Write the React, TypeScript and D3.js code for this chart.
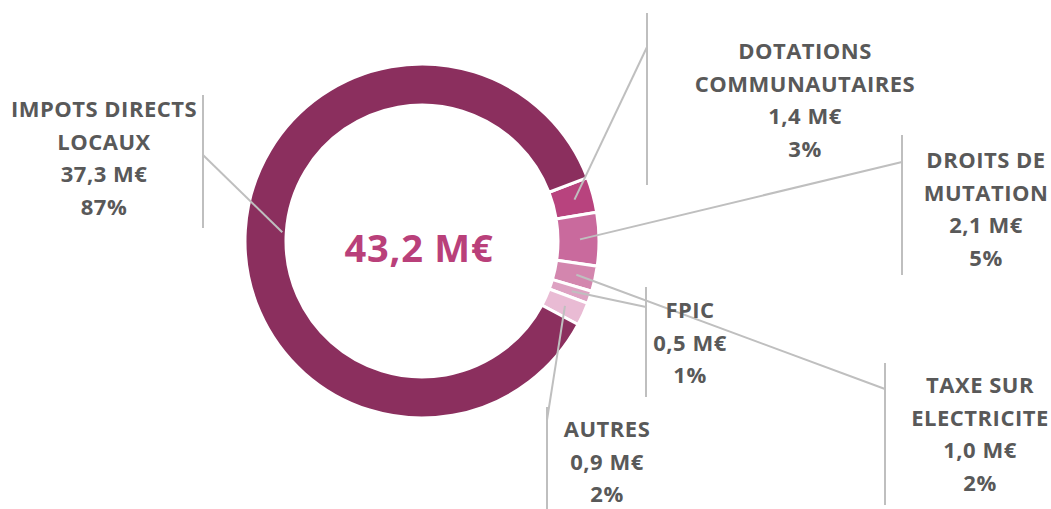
import * as d3 from "d3";
import React from "react";

const categories = [
  "DOTATIONS COMMUNAUTAIRES",
  "DROITS DE MUTATION",
  "TAXE SUR ELECTRICITE",
  "FPIC",
  "AUTRES",
  "IMPOTS DIRECTS LOCAUX",
];
const values = [1.4, 2.1, 1.0, 0.5, 0.9, 37.3];
const pctLabels = ["3%", "5%", "2%", "1%", "2%", "87%"];
const nameLines = [
  ["DOTATIONS", "COMMUNAUTAIRES"],
  ["DROITS DE", "MUTATION"],
  ["TAXE SUR", "ELECTRICITE"],
  ["FPIC"],
  ["AUTRES"],
  ["IMPOTS DIRECTS", "LOCAUX"],
];
const totalLabel = "43,2 M€";

const colors = ["#b8437e", "#c96a9d", "#d386ae", "#dda2c2", "#e9bbd4", "#8b2f5e"];

const width = 1051;
const height = 509;
const cx = 422;
const cy = 241;
const outerR = 177;
const innerR = 136;
const lineStep = 32.5;

// label boxes: text center, first baseline, leader bar x / y range, join y
const layout = [
  { tx: 805, ty: 59, bx: 647, by1: 13, by2: 185, jy: 47 },
  { tx: 986, ty: 168, bx: 902, by1: 135, by2: 275, jy: 162 },
  { tx: 980, ty: 393, bx: 885, by1: 363, by2: 505, jy: 389 },
  { tx: 690, ty: 318, bx: 646, by1: 287, by2: 397, jy: 307 },
  { tx: 607, ty: 437, bx: 547, by1: 407, by2: 512, jy: 420 },
  { tx: 104, ty: 117, bx: 203, by1: 95, by2: 228, jy: 155 },
];
const anchorR = [158, 158, 158, 158, 157, 140];

const fmt = (v: number) => v.toFixed(1).replace(".", ",") + " M€";

export default function App() {
  const start = (69 * Math.PI) / 180;
  const pie = d3
    .pie<number>()
    .sort(null)
    .value((d) => d)
    .startAngle(start)
    .endAngle(start + 2 * Math.PI);
  const arcs = pie(values);
  const arcGen = d3.arc<d3.PieArcDatum<number>>().innerRadius(innerR).outerRadius(outerR);

  return (
    <svg width={width} height={height} style={{ position: "absolute", left: 0, top: 0 }}>
      <g transform={`translate(${cx},${cy})`}>
        {arcs.map((a, i) => (
          <path key={i} d={arcGen(a) || ""} fill={colors[i]} stroke="#fff" strokeWidth={3} />
        ))}
      </g>
      {arcs.map((a, i) => {
        const L = layout[i];
        const mid = (a.startAngle + a.endAngle) / 2;
        const px = cx + anchorR[i] * Math.sin(mid);
        const py = cy - anchorR[i] * Math.cos(mid);
        return (
          <g key={categories[i]}>
            <line x1={L.bx} x2={L.bx} y1={L.by1} y2={L.by2} stroke="#bfbfbf" strokeWidth={2} />
            <line x1={px} y1={py} x2={L.bx} y2={L.jy} stroke="#bfbfbf" strokeWidth={2} />
          </g>
        );
      })}
      {arcs.map((a, i) => {
        const L = layout[i];
        const lines = [...nameLines[i], fmt(values[i]), pctLabels[i]];
        return (
          <text
            key={"t" + i}
            textAnchor="middle"
            fontFamily="'Open Sans', sans-serif"
            fontWeight="bold"
            fontSize={22}
            letterSpacing={0.5}
            fill="#595959"
          >
            {lines.map((s, j) => (
              <tspan key={j} x={L.tx} y={L.ty + j * lineStep}>
                {s}
              </tspan>
            ))}
          </text>
        );
      })}
      <text
        x={419}
        y={262}
        textAnchor="middle"
        fontFamily="'Open Sans', sans-serif"
        fontWeight="bold"
        fontSize={38}
        letterSpacing={0.8}
        fill="#b9407a"
      >
        {totalLabel}
      </text>
    </svg>
  );
}
